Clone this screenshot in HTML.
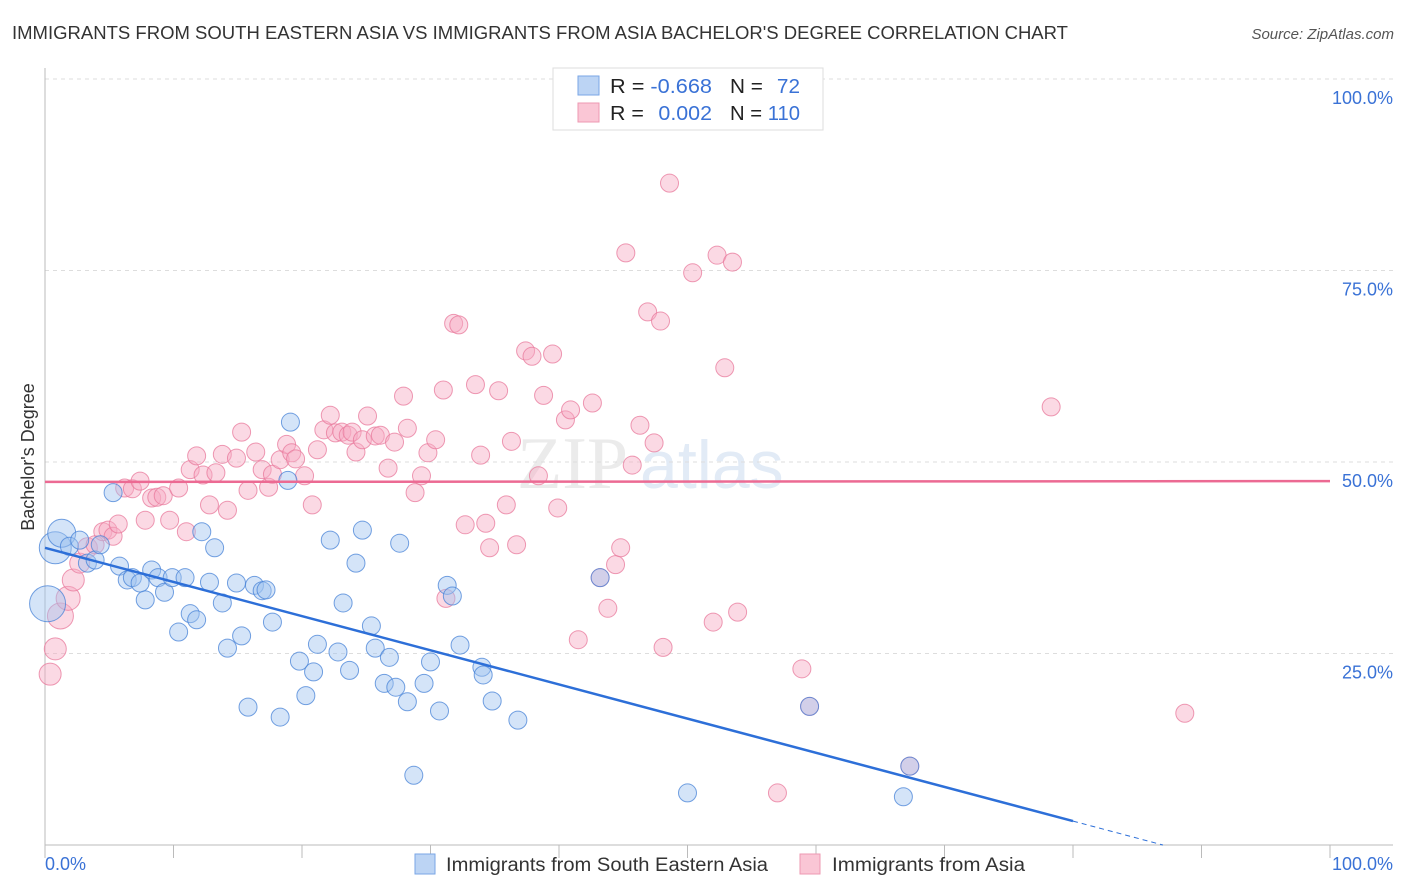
<!DOCTYPE html>
<html><head><meta charset="utf-8"><style>
body{margin:0;background:#fff;font-family:"Liberation Sans",sans-serif;}
#wrap{position:relative;width:1406px;height:892px;overflow:hidden;}
svg{position:absolute;left:0;top:0;}
</style></head><body>
<div id="wrap">
<svg id="chart" width="1406" height="892">
<text x="12" y="39" font-size="18" fill="#333" textLength="1056" lengthAdjust="spacingAndGlyphs">IMMIGRANTS FROM SOUTH EASTERN ASIA VS IMMIGRANTS FROM ASIA BACHELOR'S DEGREE CORRELATION CHART</text>
<text x="1394" y="39" font-size="15" fill="#555" font-style="italic" text-anchor="end">Source: ZipAtlas.com</text>
<text x="34" y="457" font-size="18" fill="#333" text-anchor="middle" transform="rotate(-90 34 457)">Bachelor's Degree</text>
<g><text x="628" y="488" font-size="74" fill="#ebebeb" font-family="Liberation Serif,serif" text-anchor="end">ZIP</text><text x="640" y="488" font-size="68" fill="#e2ebf6">atlas</text></g>
<g id="grid"></g><g id="axes"></g><g id="pts"></g><g id="lines"></g>
<g>
<rect x="553" y="68" width="270" height="62" fill="#fff" stroke="#ddd"/>
<rect x="578" y="76" width="21" height="19" fill="#bcd4f4" stroke="#7aa6e6"/>
<rect x="578" y="103" width="21" height="19" fill="#fac6d5" stroke="#ee98b2"/>
<text x="610" y="93" font-size="20" fill="#222" textLength="102" lengthAdjust="spacingAndGlyphs">R = <tspan fill="#3a72d6">-0.668</tspan></text>
<text x="730" y="93" font-size="20" fill="#222" textLength="70" lengthAdjust="spacingAndGlyphs">N = <tspan fill="#3a72d6" dx="8">72</tspan></text>
<text x="610" y="120" font-size="20" fill="#222" textLength="102" lengthAdjust="spacingAndGlyphs">R = <tspan fill="#3a72d6" dx="8">0.002</tspan></text>
<text x="730" y="120" font-size="20" fill="#222" textLength="70" lengthAdjust="spacingAndGlyphs">N = <tspan fill="#3a72d6">110</tspan></text>
</g>
<g>
<rect x="415" y="854" width="20" height="20" fill="#bcd4f4" stroke="#7aa6e6"/>
<text x="446" y="871" font-size="19" fill="#333" textLength="322" lengthAdjust="spacingAndGlyphs">Immigrants from South Eastern Asia</text>
<rect x="800" y="854" width="20" height="20" fill="#fac6d5" stroke="#ee98b2"/>
<text x="832" y="871" font-size="19" fill="#333" textLength="193" lengthAdjust="spacingAndGlyphs">Immigrants from Asia</text>
</g>
</svg>
</div>
<script>
const blueX=[0.8,1.3,0.2,1.9,2.7,3.3,3.9,4.3,5.3,5.8,6.4,6.8,7.4,7.8,8.3,8.8,9.3,9.9,10.4,10.9,11.3,11.8,12.2,12.8,13.2,13.8,14.2,14.9,15.3,15.8,16.3,16.9,17.2,17.7,18.3,18.9,19.1,19.8,20.3,20.9,21.2,22.2,22.8,23.2,23.7,24.2,24.7,25.4,25.7,26.4,26.8,27.3,27.6,28.2,28.7,29.5,30.0,30.7,31.3,31.7,32.3,34.0,34.1,34.8,36.8,43.2,50.0,59.5,67.3,66.8];
const blueY=[38.8,40.7,31.5,39.0,39.8,36.8,37.2,39.2,46.0,36.4,34.6,34.9,34.2,32.0,35.9,34.9,33.0,34.9,27.8,34.9,30.2,29.4,40.9,34.3,38.8,31.6,25.7,34.2,27.3,18.0,33.9,33.2,33.3,29.1,16.7,47.6,55.2,24.0,19.5,22.6,26.2,39.8,25.2,31.6,22.8,36.8,41.1,28.6,25.7,21.1,24.5,20.6,39.4,18.7,9.1,21.1,23.9,17.5,33.9,32.5,26.1,23.2,22.2,18.8,16.3,34.9,6.8,18.1,10.3,6.3];
const blueBig=[16,14,18,9,9,9,9,9,9,9,9,9,9,9,9,9,9,9,9,9,9,9,9,9,9,9,9,9,9,9,9,9,9,9,9,9,9,9,9,9,9,9,9,9,9,9,9,9,9,9,9,9,9,9,9,9,9,9,9,9,9,9,9,9,9,9,9,9,9,9];
const pinkX=[0.4,0.8,1.2,1.8,2.2,2.7,3.3,3.9,4.5,4.9,5.3,5.7,6.2,6.8,7.4,7.8,8.3,8.7,9.2,9.7,10.4,11.0,11.3,11.8,12.3,12.8,13.3,13.8,14.2,14.9,15.3,15.8,16.4,16.9,17.4,17.7,18.3,18.8,19.2,19.5,20.2,20.8,21.2,21.7,22.2,22.6,23.1,23.6,23.9,24.2,24.7,25.1,25.7,26.1,26.7,27.2,27.9,28.2,28.8,29.3,29.8,30.4,31.0,31.2,31.8,32.2,32.7,33.5,33.9,34.3,34.6,35.3,35.9,36.3,36.7,37.4,37.9,38.4,38.8,39.5,39.9,40.5,40.9,41.5,42.6,43.2,43.8,44.4,44.8,45.2,45.7,46.3,46.9,47.4,47.9,48.1,48.6,50.4,52.0,52.3,52.9,53.5,53.9,57.0,58.9,59.5,67.3,78.3,88.7];
const pinkY=[22.3,25.6,29.9,32.2,34.6,36.8,38.8,39.2,40.9,41.1,40.3,41.9,46.6,46.5,47.5,42.4,45.3,45.4,45.6,42.4,46.6,40.9,49.0,50.8,48.3,44.4,48.6,51.0,43.7,50.5,53.9,46.3,51.3,49.0,46.7,48.4,50.3,52.3,51.2,50.4,48.2,44.4,51.6,54.2,56.1,53.8,53.9,53.5,53.9,51.3,52.9,56.0,53.4,53.5,49.2,52.6,58.6,54.4,46.0,48.2,51.2,52.9,59.4,32.2,68.1,67.9,41.8,60.1,50.9,42.0,38.8,59.3,44.4,52.7,39.2,64.5,63.8,48.2,58.7,64.1,44.0,55.5,56.8,26.8,57.7,34.9,30.9,36.6,38.8,77.3,49.6,54.8,69.6,52.5,68.4,25.8,86.4,74.7,29.1,77.0,62.3,76.1,30.4,6.8,23.0,18.1,10.3,57.2,17.2];
const pinkBig=[11,11,13,12,11,10,10,9,9,9,9,9,9];
const blueTrend=[38.8,-0.446];
const pinkTrend=[47.4,0.001];
const yTicks=[100,75,50,25];
const yTickLabels=["100.0%","75.0%","50.0%","25.0%"];

const NS="http://www.w3.org/2000/svg";
const X0=45,X1=1330,Y0=845,Y1=79;
const sx=v=>X0+(X1-X0)*v/100, sy=v=>Y0-(Y0-Y1)*v/100;
function mk(tag,attrs,parent){const e=document.createElementNS(NS,tag);for(const k in attrs)e.setAttribute(k,attrs[k]);parent.appendChild(e);return e;}
const grid=document.getElementById('grid'),axes=document.getElementById('axes'),pts=document.getElementById('pts'),lines=document.getElementById('lines');
yTicks.forEach((t,i)=>{
  const l=mk('line',{x1:X0,x2:1393,y1:sy(t),y2:sy(t),stroke:'#ddd','stroke-dasharray':'4 4'},grid);
  
  
  const tx=mk('text',{x:1393,y:sy(t)+25,'font-size':18,fill:'#3a72d6','text-anchor':'end'},axes);
  tx.textContent=yTickLabels[i];
  
  
});
let a=mk('line',{x1:X0,x2:X0,y1:68,y2:Y0,stroke:'#bbb'},axes);


a=mk('line',{x1:X0,x2:1393,y1:Y0,y2:Y0,stroke:'#bbb'},axes);


for(let i=0;i<=10;i++){
  const t=mk('line',{x1:sx(i*10),x2:sx(i*10),y1:Y0,y2:Y0+13,stroke:'#bbb'},axes);
  
  
}
let xl=mk('text',{x:45,y:870,'font-size':18,fill:'#3a72d6'},axes);xl.textContent='0.0%';


xl=mk('text',{x:1393,y:870,'font-size':18,fill:'#3a72d6','text-anchor':'end'},axes);xl.textContent='100.0%';


pinkX.forEach((x,i)=>{
  const c=mk('circle',{cx:sx(x),cy:sy(pinkY[i]),r:pinkBig[i]||9,fill:'rgba(246,170,195,0.45)',stroke:'rgba(232,120,155,0.75)','stroke-width':1},pts);
  
  
});
blueX.forEach((x,i)=>{
  const c=mk('circle',{cx:sx(x),cy:sy(blueY[i]),r:blueBig[i]||9,fill:'rgba(160,196,240,0.45)',stroke:'rgba(70,130,215,0.75)','stroke-width':1},pts);
  
  
});
const bEnd=80;
let tl=mk('line',{x1:sx(0),y1:sy(blueTrend[0]),x2:sx(bEnd),y2:sy(blueTrend[0]+blueTrend[1]*bEnd),stroke:'#2d6fd8','stroke-width':2.5},lines);


tl=mk('line',{x1:sx(bEnd),y1:sy(blueTrend[0]+blueTrend[1]*bEnd),x2:sx(87),y2:sy(blueTrend[0]+blueTrend[1]*87),stroke:'#2d6fd8','stroke-width':1,'stroke-dasharray':'5 4'},lines);


tl=mk('line',{x1:sx(0),y1:sy(pinkTrend[0]),x2:sx(100),y2:sy(pinkTrend[0]+pinkTrend[1]*100),stroke:'#ec6a93','stroke-width':2.5},lines);


</script>
</body></html>
